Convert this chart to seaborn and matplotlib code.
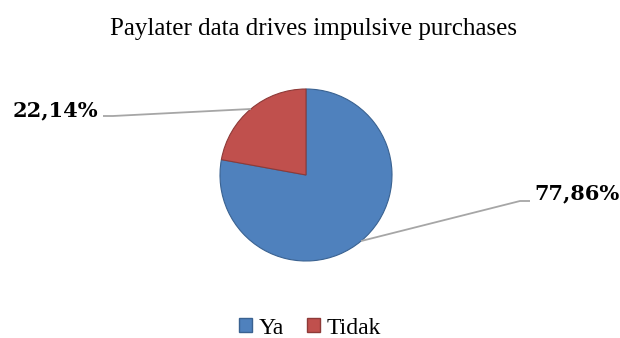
import numpy as np
import matplotlib
matplotlib.use("Agg")
import matplotlib.pyplot as plt
import seaborn as sns

categories = ["Ya", "Tidak"]
values = [77.86, 22.14]
labels = ["77,86%", "22,14%"]
colors = ["#4F81BD", "#C0504D"]
edges = ["#3A6291", "#8E3A38"]

sns.set_theme(style="white")
plt.rcParams["font.family"] = ["Liberation Serif", "DejaVu Serif"]
plt.rcParams["text.color"] = "black"

fig = plt.figure(figsize=(6.2, 3.38), dpi=100)
ax = fig.add_axes([0, 0, 1, 1])

# pixel-like coordinate frame (y up)
H = 338
cx, cy, r = 306, H - 175, 86
wedges, _ = ax.pie(values, colors=colors, startangle=90, counterclock=False,
                   center=(cx, cy), radius=r, frame=True,
                   wedgeprops=dict(linewidth=0.8))
for w, ec in zip(wedges, edges):
    w.set_edgecolor(ec)
ax.set_xlim(0, 620)
ax.set_ylim(0, H)
ax.set_aspect("equal")
ax.axis("off")

# (elbow x, elbow y, line end x, text x, text y, ha) per slice
label_pos = [(520, H - 201, 530, 534, H - 193, "left"),
             (113, H - 116, 103, 98, H - 110, "right")]
for w, lab, (ex, ey, lx, tx, ty, ha) in zip(wedges, labels, label_pos):
    mid = np.deg2rad((w.theta1 + w.theta2) / 2)
    px, py = cx + r * np.cos(mid), cy + r * np.sin(mid)
    ax.plot([px, ex, lx], [py, ey, ey], color="#A6A6A6", lw=1.3,
            solid_capstyle="butt", solid_joinstyle="round")
    ax.text(tx, ty, lab, ha=ha, va="center", fontsize=15, fontweight="bold",
            family=["DejaVu Serif"])

ax.text(314, H - 29, "Paylater data drives impulsive purchases",
        ha="center", va="center", fontsize=18)

handles = [plt.Rectangle((0, 0), 1, 1, fc=c, ec=e) for c, e in zip(colors, edges)]
fig.legend(handles, categories, loc="center", bbox_to_anchor=(0.5, 10 / H),
           ncol=2, frameon=False, fontsize=17, handlelength=0.55, handleheight=0.55,
           handletextpad=0.25, columnspacing=1.0)

fig.savefig("out.png", dpi=100)
